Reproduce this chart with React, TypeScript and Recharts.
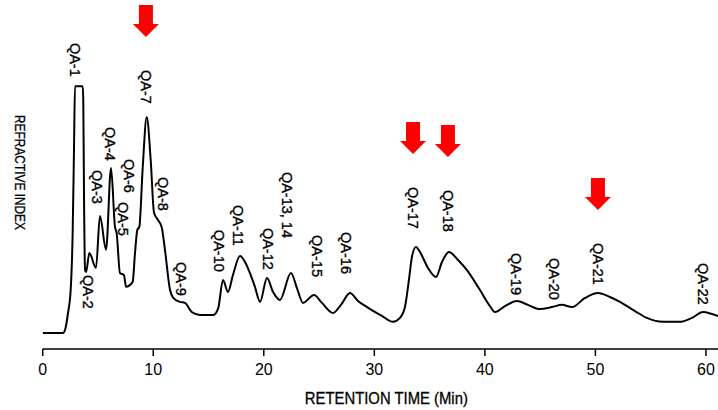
import { LineChart, Line, XAxis, YAxis, ReferenceDot, Customized } from 'recharts';

// HPLC trace: retention time (min) vs refractive index response (QA-1 top = 100, detector saturated)
const retentionTime = [
  0, 1.84, 2.02, 2.29, 2.53, 2.71, 2.83, 2.92, 3.62, 3.67, 3.74, 3.83, 3.92, 4.22, 4.82, 5.18,
  5.73, 6.18, 6.54, 6.69, 6.99, 7.35, 7.54, 8.14, 8.35, 8.56, 8.74, 9.05, 9.41, 9.77, 10.07,
  10.31, 10.76, 11.06, 11.52, 11.81, 12.42, 12.87, 13.48, 14.23, 15.43, 15.88, 16.31, 16.76,
  17.21, 17.85, 18.3, 18.75, 19.2, 19.66, 20.29, 20.84, 21.46, 22.46, 23.0, 23.55, 24.54,
  25.26, 26.26, 26.98, 27.8, 28.52, 29.34, 30.69, 31.69, 32.32, 32.77, 33.13, 33.4, 33.77,
  34.13, 34.85, 35.58, 36.12, 36.75, 37.57, 38.38, 39.56, 40.46, 40.91, 41.82, 42.9, 43.9,
  44.98, 46.07, 46.97, 47.88, 49.06, 50.23, 51.32, 52.22, 53.58, 54.66, 56.11, 57.64, 58.73,
  59.73, 60.54, 61.09,
];
const refractiveIndex = [
  0, 0, 1.2, 8.1, 17.4, 40.5, 74.2, 100, 100, 94.5, 53.9, 25.5, 24.7, 32.4, 26.4, 47.4,
  33.7, 66.9, 43.0, 40.5, 24.3, 23.5, 18.7, 20.7, 32.4, 41.8, 43.0, 67.3, 87.6, 70.1, 48.7,
  46.6, 43.0, 33.7, 17.4, 14.2, 12.6, 12.2, 8.5, 7.3, 7.3, 10.1, 21.5, 16.6,
  23.5, 31.2, 28.8, 24.3, 18.7, 12.6, 22.3, 16.6, 13.4, 24.3, 18.2, 12.2, 15.4,
  12.2, 8.1, 11.4, 16.2, 13.0, 10.5, 6.9, 4.5, 6.1, 10.5, 21.5, 30.8, 34.9,
  32.8, 26.4, 22.7, 28.8, 32.8, 29.6, 25.5, 17.4, 10.9, 8.5, 10.9, 13.0, 11.4,
  9.7, 10.5, 11.4, 10.5, 14.2, 16.2, 14.6, 12.6, 8.9, 6.1, 4.5, 4.5, 6.1,
  8.5, 7.7, 6.9,
];

const peakNames = [
  'QA-1', 'QA-2', 'QA-3', 'QA-4', 'QA-5', 'QA-6', 'QA-7', 'QA-8', 'QA-9', 'QA-10', 'QA-11',
  'QA-12', 'QA-13, 14', 'QA-15', 'QA-16', 'QA-17', 'QA-18', 'QA-19', 'QA-20', 'QA-21', 'QA-22',
];
const peakTimes = [
  2.92, 4.1, 4.91, 6.09, 7.26, 7.81, 9.34, 10.88, 12.51, 15.95, 17.67,
  20.38, 22.1, 24.81, 27.44, 33.5, 36.66, 42.81, 46.25, 50.23, 59.73,
];
// where each rotated label starts (top of text), in response units
const labelLevels = [
  117.6, 23.5, 66.1, 83.5, 53.1, 70.5, 106.6, 63.2, 28.8, 41.8, 51.9,
  42.6, 65.3, 39.7, 40.9, 59.2, 58.0, 32.4, 30.4, 36.5, 28.4,
];
const arrowedPeaks = ['QA-7', 'QA-17', 'QA-18', 'QA-21'];
const timeTicks = [0, 10, 20, 30, 40, 50, 60];

const curve = retentionTime.map((t, i) => ({ t, ri: refractiveIndex[i] }));

const FONT = '"Liberation Sans", Arial, sans-serif';

function PeakLabel(props: any) {
  const { cx, cy, name } = props;
  const top = cy - 65;
  return (
    <g>
      {arrowedPeaks.includes(name) && (
        <polygon
          fill="#ff0000"
          points={`${cx - 7},${top} ${cx + 7},${top} ${cx + 7},${top + 19} ${cx + 13},${top + 19} ${cx},${top + 32} ${cx - 13},${top + 19} ${cx - 7},${top + 19}`}
        />
      )}
      <text
        transform={`translate(${cx},${cy}) rotate(90)`}
        textAnchor="start"
        dominantBaseline="central"
        fontFamily={FONT}
        fontSize={14.5}
        fill="#000"
        stroke="#000"
        strokeWidth={0.35}
      >
        {name}
      </text>
    </g>
  );
}

function YTitle() {
  return (
    <text
      transform="translate(20,172.5) rotate(90)"
      textAnchor="middle"
      dominantBaseline="central"
      fontFamily={FONT}
      fontSize={15}
      textLength={115}
      lengthAdjust="spacingAndGlyphs"
      fill="#000"
      stroke="#000"
      strokeWidth={0.3}
    >
      REFRACTIVE INDEX
    </text>
  );
}

function XTitle(props: any) {
  const { viewBox } = props;
  const cx = viewBox.x + viewBox.width / 2 + 6;
  return (
    <text
      x={cx}
      y={404}
      textAnchor="middle"
      fontFamily={FONT}
      fontSize={16}
      textLength={163}
      lengthAdjust="spacingAndGlyphs"
      fill="#000"
      stroke="#000"
      strokeWidth={0.3}
    >
      RETENTION TIME (Min)
    </text>
  );
}

export default function App() {
  return (
    <div style={{ position: 'absolute', left: 0, top: 0, background: '#fff' }}>
      <LineChart
        width={718}
        height={410}
        data={curve}
        margin={{ top: 0, right: 0, bottom: 0, left: 42.7 }}
      >
        <XAxis
          dataKey="t"
          type="number"
          domain={[0, 61.09]}
          ticks={timeTicks}
          height={61}
          allowDataOverflow
          axisLine={{ stroke: '#000', strokeWidth: 1.5 }}
          tickLine={{ stroke: '#000', strokeWidth: 1.5 }}
          tickSize={7}
          tickMargin={8}
          tick={{ fill: '#000', fontSize: 16, fontFamily: FONT }}
          label={<XTitle />}
        />
        <YAxis type="number" domain={[-6.5, 135]} hide width={0} allowDataOverflow />
        <Line
          type="monotone"
          dataKey="ri"
          stroke="#000"
          strokeWidth={2}
          dot={false}
          isAnimationActive={false}
        />
        {peakNames.map((name, i) => (
          <ReferenceDot
            key={name}
            x={peakTimes[i]}
            y={labelLevels[i]}
            r={0}
            ifOverflow="visible"
            shape={(p: any) => <PeakLabel {...p} name={name} />}
          />
        ))}
        <Customized component={YTitle} />
      </LineChart>
    </div>
  );
}
